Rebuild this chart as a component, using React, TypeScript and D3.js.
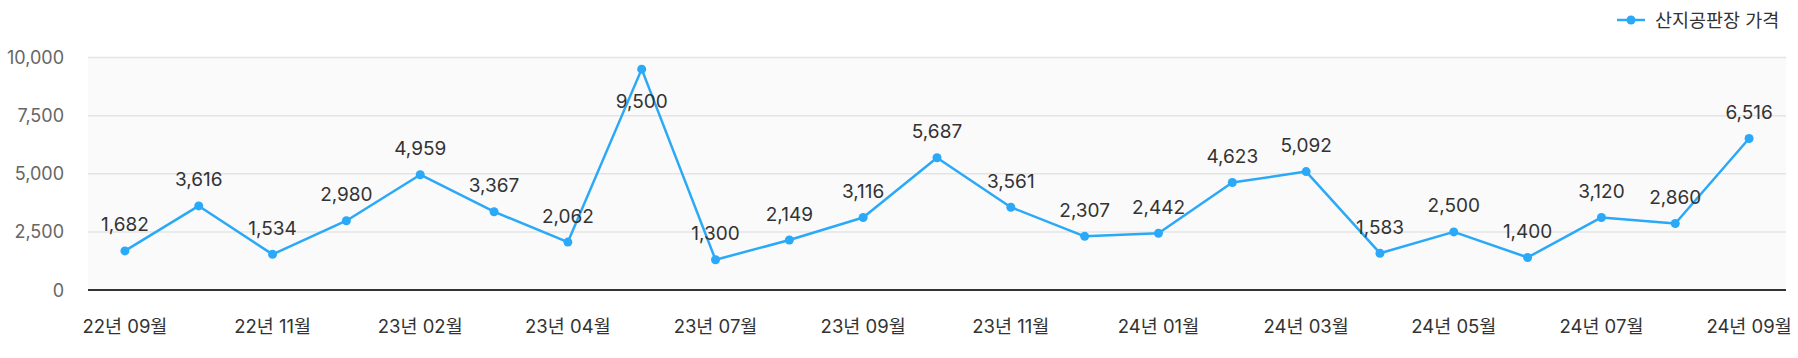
import React from "react";
import * as d3 from "d3";

const categories: string[] = [
  "22년 09월", "22년 10월", "22년 11월", "22년 12월", "23년 02월", "23년 03월",
  "23년 04월", "23년 05월", "23년 07월", "23년 08월", "23년 09월", "23년 10월",
  "23년 11월", "23년 12월", "24년 01월", "24년 02월", "24년 03월", "24년 04월",
  "24년 05월", "24년 06월", "24년 07월", "24년 08월", "24년 09월",
];
const prices: number[] = [
  1682, 3616, 1534, 2980, 4959, 3367, 2062, 9500, 1300, 2149, 3116, 5687,
  3561, 2307, 2442, 4623, 5092, 1583, 2500, 1400, 3120, 2860, 6516,
];
const yTicks: number[] = [0, 2500, 5000, 7500, 10000];
const seriesName = "산지공판장 가격";

const W = 1798;
const H = 358;
const M = { left: 88, right: 1786, top: 57.5, bottom: 290 };
const COLOR = "#2aa9f8";
const FONT = "Inter, 'Noto Sans CJK KR', sans-serif";

export default function App() {
  const x = d3.scalePoint<string>().domain(categories).range([M.left, M.right]).padding(0.5);
  const y = d3.scaleLinear().domain([0, 10000]).range([M.bottom, M.top]);
  const line = d3
    .line<number>()
    .x((_, i) => x(categories[i]) as number)
    .y((d) => y(d));
  const fmt = d3.format(",");

  return (
    <svg
      width={W}
      height={H}
      style={{ position: "absolute", left: 0, top: 0, background: "#fff" }}
      fontFamily={FONT}
    >
      <rect x={M.left} y={M.top} width={M.right - M.left} height={M.bottom - M.top} fill="#fafafa" />
      {yTicks.map((t) => (
        <g key={t}>
          {t !== 0 && (
            <line x1={M.left} x2={M.right} y1={y(t)} y2={y(t)} stroke="#e4e4e4" strokeWidth={1.5} />
          )}
          <text x={64} y={y(t)} textAnchor="end" dominantBaseline="central" fontSize={18} fill="#666">
            {fmt(t)}
          </text>
        </g>
      ))}
      <line x1={M.left} x2={M.right} y1={M.bottom} y2={M.bottom} stroke="#333" strokeWidth={2} />
      {categories.map((c, i) =>
        i % 2 === 0 ? (
          <text key={c} x={x(c)} y={326} textAnchor="middle" dominantBaseline="central" fontSize={18.5} fill="#333">
            {c}
          </text>
        ) : null
      )}
      <path d={line(prices) || ""} fill="none" stroke={COLOR} strokeWidth={2.5} strokeLinejoin="round" />
      {prices.map((v, i) => (
        <circle key={i} cx={x(categories[i])} cy={y(v)} r={4.5} fill={COLOR} />
      ))}
      {prices.map((v, i) => {
        const py = y(v);
        const above = py - 26 - 10 > M.top;
        return (
          <text
            key={"l" + i}
            x={x(categories[i])}
            y={above ? py - 26 : py + 32}
            textAnchor="middle"
            dominantBaseline="central"
            fontSize={19}
            fill="#333"
          >
            {fmt(v)}
          </text>
        );
      })}
      <g>
        <line x1={1617} x2={1645} y1={20} y2={20} stroke={COLOR} strokeWidth={2.5} />
        <circle cx={1631} cy={20} r={4.5} fill={COLOR} />
        <text x={1655} y={20} dominantBaseline="central" fontSize={18.5} fill="#333">
          {seriesName}
        </text>
      </g>
    </svg>
  );
}
